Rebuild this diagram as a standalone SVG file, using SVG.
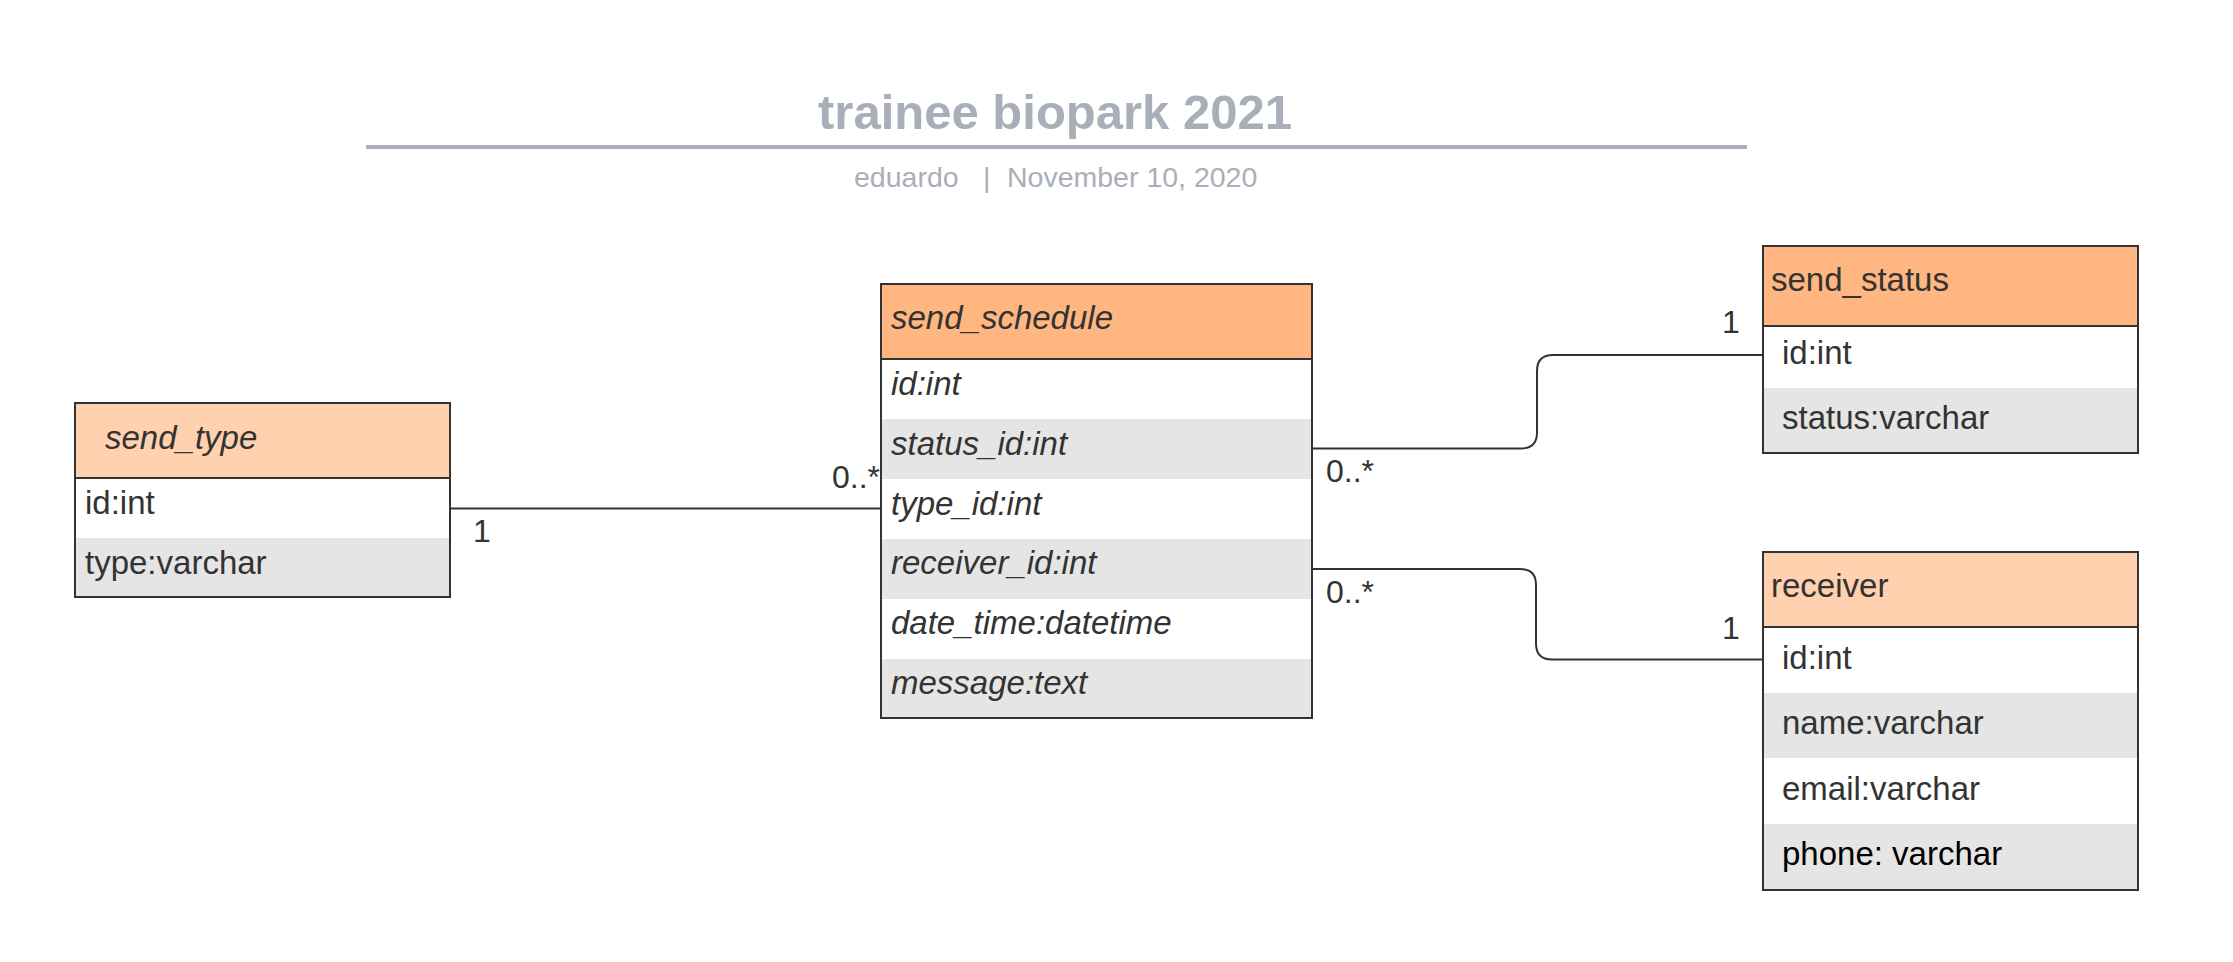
<svg xmlns="http://www.w3.org/2000/svg" width="2233" height="962" viewBox="0 0 2233 962">
<style>
.t{font-family:"Liberation Sans",Arial,sans-serif;font-size:33px;fill:#333333}
.i{font-style:italic}
.box{fill:none;stroke:#333333;stroke-width:2}
.sep{stroke:#333333;stroke-width:2}
.h1{fill:#FFB680}
.h2{fill:#FFD1AE}
.w{fill:#FFFFFF}
.g{fill:#E5E5E5}
.c{fill:none;stroke:#333333;stroke-width:2}
.lbl{font-family:"Liberation Sans",Arial,sans-serif;font-size:32px;fill:#333333}
.hd{font-family:"Liberation Sans",Arial,sans-serif;fill:#A9AFB8}
</style>
<rect x="0" y="0" width="2233" height="962" fill="#FFFFFF"/>
<g id="header">
<text class="hd" x="1055" y="129" font-size="49" font-weight="bold" text-anchor="middle">trainee biopark 2021</text>
<rect x="366" y="145" width="1381" height="4" fill="#A9AFB8"/>
<text class="hd" x="854" y="187" font-size="28.5">eduardo</text>
<text class="hd" x="983" y="187" font-size="28.5">|</text>
<text class="hd" x="1007" y="187" font-size="28.5">November 10, 2020</text>
</g>
<g id="connectors">
<line class="c" x1="450" y1="508.5" x2="881" y2="508.5" stroke-width="1.2"/>
<path class="c" d="M1312 448.5 H1521 Q1537 448.5 1537 432.5 V371 Q1537 355 1553 355 H1762"/>
<path class="c" d="M1312 569 H1520 Q1536 569 1536 585 V643.5 Q1536 659.5 1552 659.5 H1762"/>
<text class="lbl" x="473" y="542">1</text>
<text class="lbl" x="880" y="488" text-anchor="end">0..*</text>
<text class="lbl" x="1326" y="482">0..*</text>
<text class="lbl" x="1722" y="333">1</text>
<text class="lbl" x="1326" y="603">0..*</text>
<text class="lbl" x="1722" y="639">1</text>
</g>
<g id="send_type">
<rect class="h2" x="75" y="403" width="375" height="75"/>
<rect class="w" x="75" y="478" width="375" height="60"/>
<rect class="g" x="75" y="538" width="375" height="59"/>
<line class="sep" x1="75" y1="478" x2="450" y2="478"/>
<rect class="box" x="75" y="403" width="375" height="194"/>
<text class="t i" x="105" y="449">send_type</text>
<text class="t" x="85" y="514">id:int</text>
<text class="t" x="85" y="574">type:varchar</text>
</g>
<g id="send_schedule">
<rect class="h1" x="881" y="284" width="431" height="75"/>
<rect class="w" x="881" y="359" width="431" height="60"/>
<rect class="g" x="881" y="419" width="431" height="60"/>
<rect class="w" x="881" y="479" width="431" height="60"/>
<rect class="g" x="881" y="539" width="431" height="60"/>
<rect class="w" x="881" y="599" width="431" height="60"/>
<rect class="g" x="881" y="659" width="431" height="59"/>
<line class="sep" x1="881" y1="359" x2="1312" y2="359"/>
<rect class="box" x="881" y="284" width="431" height="434"/>
<text class="t i" x="891" y="329">send_schedule</text>
<text class="t i" x="891" y="395">id:int</text>
<text class="t i" x="891" y="455">status_id:int</text>
<text class="t i" x="891" y="515">type_id:int</text>
<text class="t i" x="891" y="574">receiver_id:int</text>
<text class="t i" x="891" y="634">date_time:datetime</text>
<text class="t i" x="891" y="694">message:text</text>
</g>
<g id="send_status">
<rect class="h1" x="1763" y="246" width="375" height="80"/>
<rect class="w" x="1763" y="326" width="375" height="62"/>
<rect class="g" x="1763" y="388" width="375" height="65"/>
<line class="sep" x1="1763" y1="326" x2="2138" y2="326"/>
<rect class="box" x="1763" y="246" width="375" height="207"/>
<text class="t" x="1771" y="291">send_status</text>
<text class="t" x="1782" y="364">id:int</text>
<text class="t" x="1782" y="429">status:varchar</text>
</g>
<g id="receiver">
<rect class="h2" x="1763" y="552" width="375" height="75"/>
<rect class="w" x="1763" y="627" width="375" height="66"/>
<rect class="g" x="1763" y="693" width="375" height="65"/>
<rect class="w" x="1763" y="758" width="375" height="66"/>
<rect class="g" x="1763" y="824" width="375" height="66"/>
<line class="sep" x1="1763" y1="627" x2="2138" y2="627"/>
<rect class="box" x="1763" y="552" width="375" height="338"/>
<text class="t" x="1771" y="597">receiver</text>
<text class="t" x="1782" y="669">id:int</text>
<text class="t" x="1782" y="734">name:varchar</text>
<text class="t" x="1782" y="800">email:varchar</text>
<text class="t" x="1782" y="865" style="fill:#000000">phone: varchar</text>
</g>
</svg>
